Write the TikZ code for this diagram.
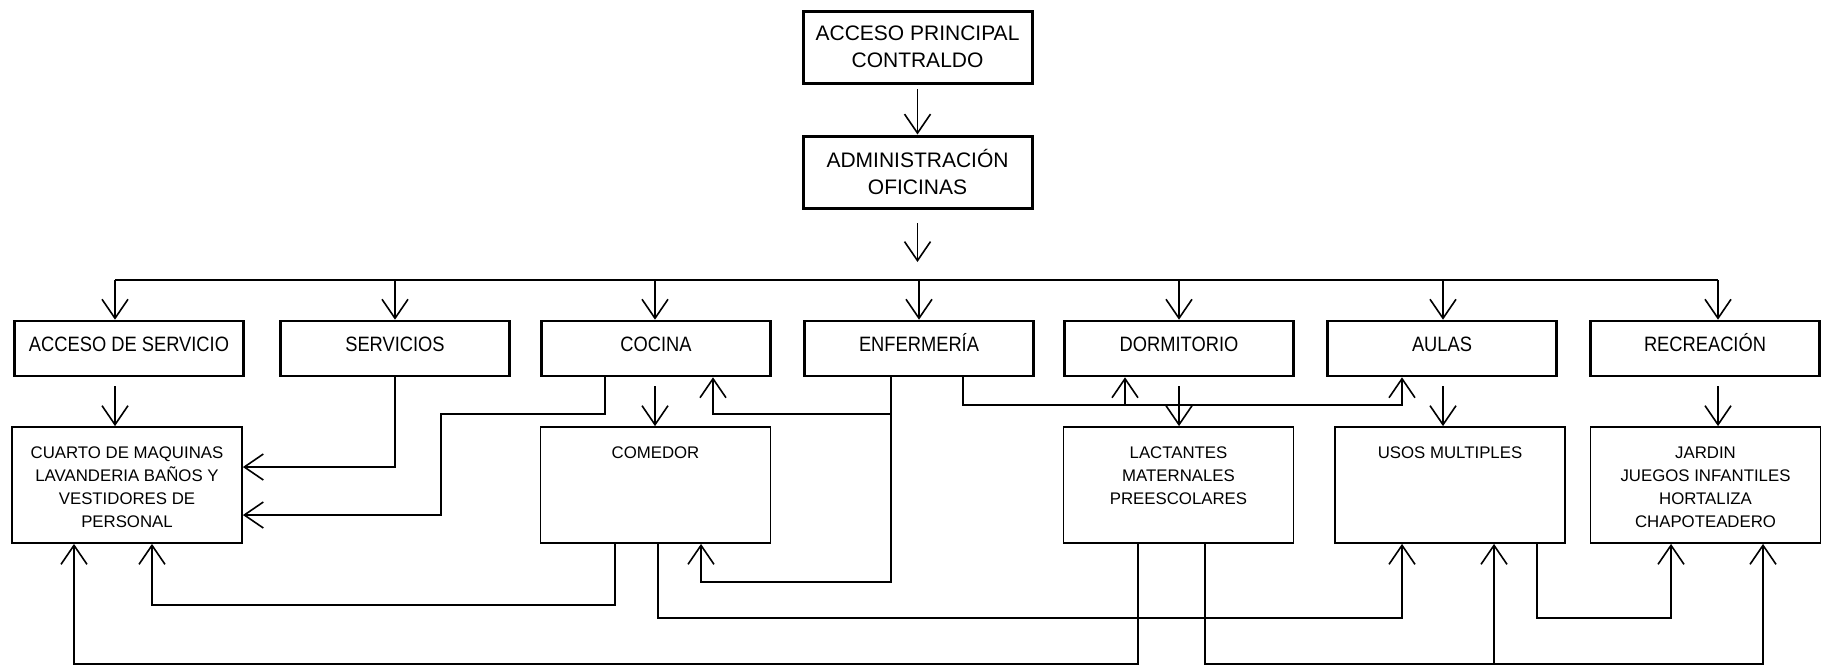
\documentclass[tikz,border=0pt]{standalone}
\usepackage{fontspec}
\setmainfont{Liberation Sans}
\newfontfamily\narrowfont{Liberation Sans}[FakeStretch=0.88]
\usetikzlibrary{arrows.meta}
\newcommand{\lowtxt}[1]{\parbox[c][58pt][t]{113pt}{\centering\vspace*{9.8pt}#1}}
\begin{document}
\begin{tikzpicture}[x=0.5pt,y=-0.5pt,
  topbox/.style={draw, line width=1.5pt, minimum width=114.5pt, minimum height=36pt, inner sep=0pt, align=center, font=\fontsize{10.5}{13.5}\selectfont},
  midbox/.style={draw, line width=1.3pt, minimum width=114.5pt, minimum height=27.5pt, inner sep=0pt, text height=7.45pt, text depth=4pt, font=\narrowfont\fontsize{10.4}{12}\selectfont},
  lowbox/.style={draw, line width=0.9pt, minimum width=115pt, minimum height=58pt, inner sep=0pt, font=\fontsize{8.4}{11.5}\selectfont},
  conn/.style={line width=0.8pt},
  arr/.style={conn, -{Straight Barb[length=9.5pt,width=13pt]}}]
\useasboundingbox (0,0) rectangle (1824,666);

% top boxes
\node[topbox] (acceso) at (917.5,47) {ACCESO PRINCIPAL\\CONTRALDO};
\node[topbox] (admin) at (917.5,172) {ADMINISTRACIÓN\\OFICINAS};

% row 1
\node[midbox] (accserv) at (129,348.5) {ACCESO DE SERVICIO};
\node[midbox] (servicios) at (395,348.5) {SERVICIOS};
\node[midbox] (cocina) at (656,348.5) {COCINA};
\node[midbox] (enfermeria) at (919,348.5) {ENFERMERÍA};
\node[midbox] (dormitorio) at (1179,348.5) {DORMITORIO};
\node[midbox] (aulas) at (1442,348.5) {AULAS};
\node[midbox] (recreacion) at (1705,348.5) {RECREACIÓN};

% row 2
\node[lowbox] (cuarto) at (127,485) {\lowtxt{CUARTO DE MAQUINAS\\LAVANDERIA BAÑOS Y\\VESTIDORES DE\\PERSONAL}};
\node[lowbox] (comedor) at (655.5,485) {\lowtxt{COMEDOR}};
\node[lowbox] (lactantes) at (1178.5,485) {\lowtxt{LACTANTES\\MATERNALES\\PREESCOLARES}};
\node[lowbox] (usos) at (1450,485) {\lowtxt{USOS MULTIPLES}};
\node[lowbox] (jardin) at (1705.5,485) {\lowtxt{JARDIN\\JUEGOS INFANTILES\\HORTALIZA\\CHAPOTEADERO}};

% helper coordinates
\coordinate (a1s) at (917.5,89);
\coordinate (a2s) at (917.5,223);
\coordinate (a2e) at (917.5,262);
\coordinate (b1) at (115,280);
\coordinate (b2) at (395,280);
\coordinate (b3) at (655,280);
\coordinate (b4) at (919,280);
\coordinate (b5) at (1179,280);
\coordinate (b6) at (1443,280);
\coordinate (b7) at (1718,280);
\coordinate (f1) at (115,386);
\coordinate (f2) at (655,386);
\coordinate (f3) at (1179,386);
\coordinate (f4) at (1443,386);
\coordinate (f5) at (1718,386);
\foreach \v in {74,152,441,605,615,658,701,713,891,963,1125,1138,1205,1402,1494,1537,1671,1763} {\coordinate (x\v) at (\v,0);}
\foreach \v in {405,414,467,515,582,605,618,664} {\coordinate (y\v) at (0,\v);}

% top arrows
\draw[arr] (a1s) -- (admin.north);
\draw[arr] (a2s) -- (a2e);

% bus
\draw[conn] (b1) -- (b7);
\draw[arr] (b1) -- (b1 |- accserv.north);
\draw[arr] (b2) -- (b2 |- servicios.north);
\draw[arr] (b3) -- (b3 |- cocina.north);
\draw[arr] (b4) -- (b4 |- enfermeria.north);
\draw[arr] (b5) -- (b5 |- dormitorio.north);
\draw[arr] (b6) -- (b6 |- aulas.north);
\draw[arr] (b7) -- (b7 |- recreacion.north);

% floating arrows row1 -> row2
\draw[arr] (f1) -- (f1 |- cuarto.north);
\draw[arr] (f2) -- (f2 |- comedor.north);
\draw[arr] (f3) -- (f3 |- lactantes.north);
\draw[arr] (f4) -- (f4 |- usos.north);
\draw[arr] (f5) -- (f5 |- jardin.north);

% servicios -> cuarto
\draw[arr] (servicios.south) |- (cuarto.east |- y467);
% cocina -> cuarto
\draw[arr] (x605 |- cocina.south) |- (x441 |- y414) |- (cuarto.east |- y515);
% enfermeria -> comedor, cocina
\draw[arr] (x891 |- enfermeria.south) |- (x701 |- y582) -- (x701 |- comedor.south);
\draw[arr] (x891 |- y414) -| (x713 |- cocina.south);
% enfermeria -> aulas, dormitorio
\draw[arr] (x963 |- enfermeria.south) |- (x1402 |- y405) -- (x1402 |- aulas.south);
\draw[arr] (x1125 |- y405) -- (x1125 |- dormitorio.south);
% comedor -> cuarto
\draw[arr] (x615 |- comedor.south) |- (x152 |- y605) -- (x152 |- cuarto.south);
% comedor -> usos
\draw[arr] (x658 |- comedor.south) |- (x1402 |- y618) -- (x1402 |- usos.south);
% lactantes -> cuarto
\draw[arr] (x1138 |- lactantes.south) |- (x74 |- y664) -- (x74 |- cuarto.south);
% lactantes -> jardin, usos
\draw[arr] (x1205 |- lactantes.south) |- (x1763 |- y664) -- (x1763 |- jardin.south);
\draw[arr] (x1494 |- y664) -- (x1494 |- usos.south);
% usos -> jardin
\draw[arr] (x1537 |- usos.south) |- (x1671 |- y618) -- (x1671 |- jardin.south);
\end{tikzpicture}
\end{document}
